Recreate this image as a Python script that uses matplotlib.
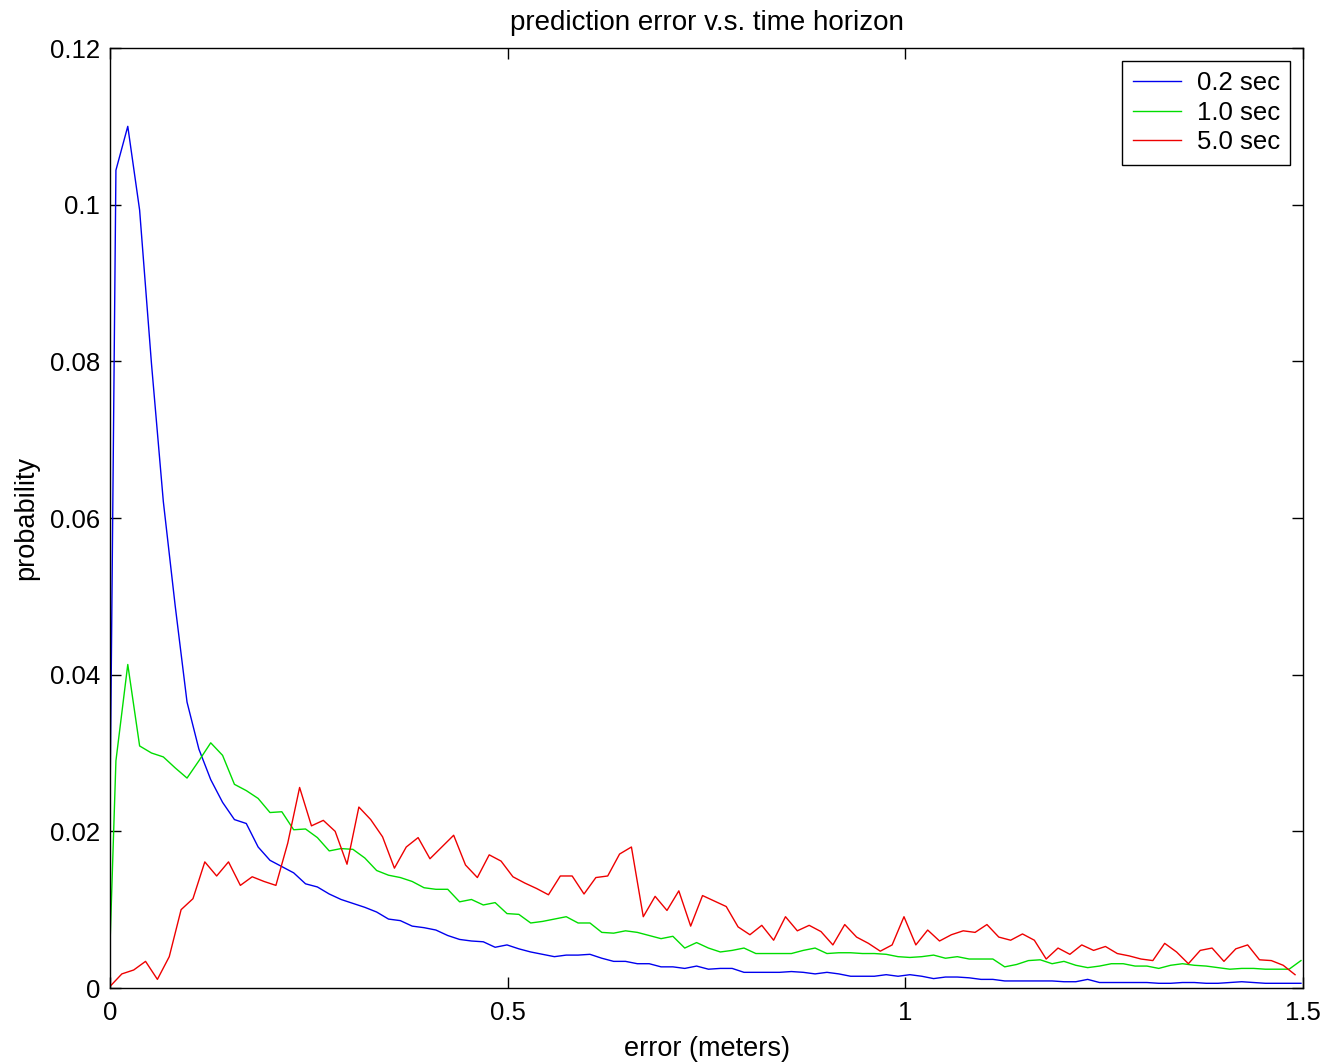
import numpy as np
import matplotlib
matplotlib.use("Agg")
import matplotlib.pyplot as plt
from matplotlib.ticker import FixedLocator, FixedFormatter

plt.rcParams['font.family'] = ['Liberation Sans', 'DejaVu Sans']

# ---- data ----
bin_width = 0.0149
series_labels = ["0.2 sec", "1.0 sec", "5.0 sec"]

blue_start = [0.023]
blue_vals = [
    0.1044, 0.1100, 0.0993, 0.0797, 0.0621, 0.0488, 0.0365, 0.0305, 0.0266, 0.0237,
    0.0215, 0.0210, 0.0180, 0.0163, 0.0155, 0.0147, 0.0133, 0.0129, 0.0120, 0.0113,
    0.0108, 0.0103, 0.0097, 0.0088, 0.0086, 0.0079, 0.0077, 0.0074, 0.0067, 0.0062,
    0.0060, 0.0059, 0.0052, 0.0055, 0.0050, 0.0046, 0.0043, 0.0040, 0.0042, 0.0042,
    0.0043, 0.0038, 0.0034, 0.0034, 0.0031, 0.0031, 0.0027, 0.0027, 0.0025, 0.0028,
    0.0024, 0.0025, 0.0025, 0.0020, 0.0020, 0.0020, 0.0020, 0.0021, 0.0020, 0.0018,
    0.0020, 0.0018, 0.0015, 0.0015, 0.0015, 0.0017, 0.0015, 0.0017, 0.0015, 0.0012,
    0.0014, 0.0014, 0.0013, 0.0011, 0.0011, 0.0009, 0.0009, 0.0009, 0.0009, 0.0009,
    0.0008, 0.0008, 0.0011, 0.0007, 0.0007, 0.0007, 0.0007, 0.0007, 0.0006, 0.0006,
    0.0007, 0.0007, 0.0006, 0.0006, 0.0007, 0.0008, 0.0007, 0.0006, 0.0006, 0.0006,
    0.0006,
]

green_start = [0.0055]
green_vals = [
    0.0290, 0.0413, 0.0309, 0.0300, 0.0295, 0.0281, 0.0268, 0.0290, 0.0313, 0.0297,
    0.0260, 0.0252, 0.0242, 0.0224, 0.0225, 0.0202, 0.0203, 0.0192, 0.0175, 0.0178,
    0.0177, 0.0166, 0.0150, 0.0144, 0.0141, 0.0136, 0.0128, 0.0126, 0.0126, 0.0110,
    0.0113, 0.0106, 0.0109, 0.0095, 0.0094, 0.0083, 0.0085, 0.0088, 0.0091, 0.0083,
    0.0083, 0.0071, 0.0070, 0.0073, 0.0071, 0.0067, 0.0063, 0.0066, 0.0051, 0.0058,
    0.0051, 0.0046, 0.0048, 0.0051, 0.0044, 0.0044, 0.0044, 0.0044, 0.0048, 0.0051,
    0.0044, 0.0045, 0.0045, 0.0044, 0.0044, 0.0043, 0.0040, 0.0039, 0.0040, 0.0042,
    0.0038, 0.0040, 0.0037, 0.0037, 0.0037, 0.0027, 0.0030, 0.0035, 0.0036, 0.0031,
    0.0034, 0.0029, 0.0026, 0.0028, 0.0031, 0.0031, 0.0028, 0.0028, 0.0025, 0.0029,
    0.0031, 0.0029, 0.0028, 0.0026, 0.0024, 0.0025, 0.0025, 0.0024, 0.0024, 0.0024,
    0.0035,
]

red_vals = [
    0.0002, 0.0018, 0.0023, 0.0034, 0.0011, 0.0040, 0.0100, 0.0114, 0.0161, 0.0143,
    0.0161, 0.0131, 0.0142, 0.0136, 0.0131, 0.0185, 0.0256, 0.0207, 0.0214, 0.0200,
    0.0158, 0.0231, 0.0215, 0.0193, 0.0153, 0.0180, 0.0192, 0.0165, 0.0180, 0.0195,
    0.0157, 0.0141, 0.0170, 0.0162, 0.0142, 0.0134, 0.0127, 0.0119, 0.0143, 0.0143,
    0.0120, 0.0141, 0.0143, 0.0171, 0.0180, 0.0091, 0.0117, 0.0099, 0.0124, 0.0079,
    0.0118, 0.0111, 0.0104, 0.0078, 0.0068, 0.0080, 0.0061, 0.0091, 0.0073, 0.0080,
    0.0072, 0.0055, 0.0081, 0.0065, 0.0057, 0.0047, 0.0055, 0.0091, 0.0055, 0.0074,
    0.0060, 0.0068, 0.0073, 0.0071, 0.0081, 0.0065, 0.0061, 0.0069, 0.0061, 0.0037,
    0.0051, 0.0043, 0.0055, 0.0048, 0.0053, 0.0044, 0.0041, 0.0037, 0.0035, 0.0057,
    0.0046, 0.0031, 0.0048, 0.0051, 0.0034, 0.0050, 0.0055, 0.0036, 0.0035, 0.0029,
    0.0017,
]

x_ticks = [0, 0.5, 1, 1.5]
x_tick_labels = ["0", "0.5", "1", "1.5"]
y_ticks = [0, 0.02, 0.04, 0.06, 0.08, 0.1, 0.12]
y_tick_labels = ["0", "0.02", "0.04", "0.06", "0.08", "0.1", "0.12"]

# x positions: bin centres for blue/green (plus the origin), bin edges for red
x_blue = np.concatenate([[0.0], (np.arange(len(blue_vals)) + 0.5) * bin_width])
x_green = np.concatenate([[0.0], (np.arange(len(green_vals)) + 0.5) * bin_width])
x_red = np.arange(len(red_vals)) * bin_width

y_blue = np.array(blue_start + blue_vals)
y_green = np.array(green_start + green_vals)
y_red = np.array(red_vals)

# ---- figure ----
fig = plt.figure(figsize=(13.24, 10.63), dpi=100)
ax = fig.add_axes([110 / 1324, 1 - 988 / 1063, (1303 - 110) / 1324, (988 - 48) / 1063])

lw = 1.0
ax.plot(x_blue, y_blue, color="#0000ee", lw=lw, label=series_labels[0])
ax.plot(x_green, y_green, color="#00dd00", lw=lw, label=series_labels[1])
ax.plot(x_red, y_red, color="#ee0000", lw=lw, label=series_labels[2])

ax.set_xlim(0, 1.5)
ax.set_ylim(0, 0.12)
ax.xaxis.set_major_locator(FixedLocator(x_ticks))
ax.xaxis.set_major_formatter(FixedFormatter(x_tick_labels))
ax.yaxis.set_major_locator(FixedLocator(y_ticks))
ax.yaxis.set_major_formatter(FixedFormatter(y_tick_labels))

ax.tick_params(direction="in", length=8, width=1, top=True, right=True,
               labelsize=18.5)
ax.tick_params(axis="x", pad=9)
ax.tick_params(axis="y", pad=7)
for s in ax.spines.values():
    s.set_linewidth(1.0)
    s.set_color("black")

ax.set_title("prediction error v.s. time horizon", fontsize=20, pad=13)
ax.set_xlabel("error (meters)", fontsize=19.5, labelpad=8)
ax.set_ylabel("probability", fontsize=19.5, labelpad=8)

leg = ax.legend(loc="upper right", fontsize=18.5, fancybox=False, framealpha=1,
                edgecolor="black", handlelength=1.9, handletextpad=0.6,
                borderpad=0.4, labelspacing=0.22, borderaxespad=0.5)
leg.get_frame().set_linewidth(1.0)

fig.savefig("out.png", dpi=100, facecolor="white")
